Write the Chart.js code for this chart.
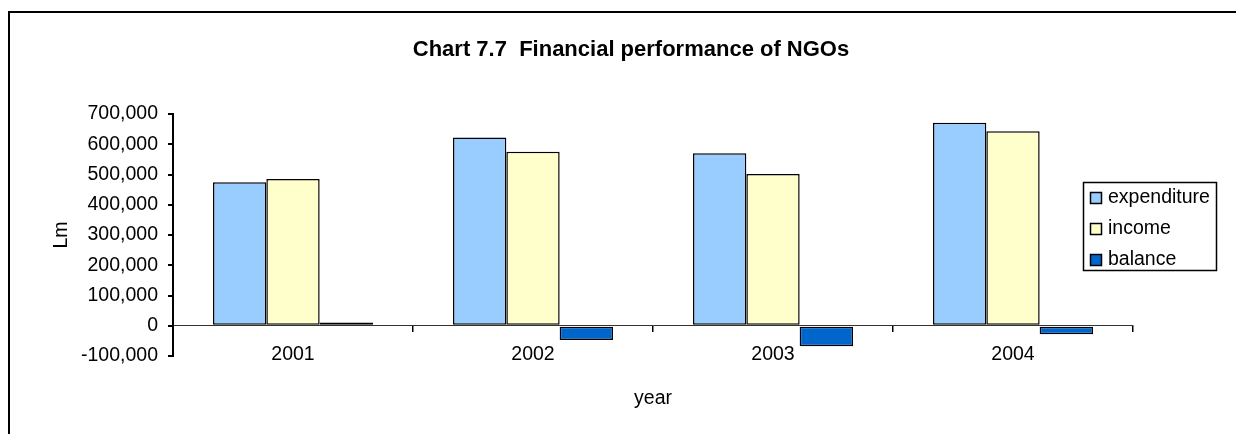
<!DOCTYPE html>
<html>
<head>
<meta charset="utf-8">
<title>Financial performance of NGOs</title>
<script src="https://cdn.jsdelivr.net/npm/chart.js@4.4.1/dist/chart.umd.min.js"></script>
<style>
    html, body { margin: 0; padding: 0; background: #fff; overflow: hidden; }
    #ngo-chart { display: block; }
</style>
</head>
<body>
<canvas id="ngo-chart" width="1236" height="434"></canvas>
<script>
// Financial performance of NGOs, Lm per year

var chartTitle = 'Chart 7.7  Financial performance of NGOs';
var years = ['2001', '2002', '2003', '2004'];
var expenditure = [474000, 622000, 570000, 671000];
var income = [485000, 575000, 502000, 643000];
var balance = [11000, -47000, -68000, -28000];
var yTicks = [-100000, 0, 100000, 200000, 300000, 400000, 500000, 600000, 700000];

var fontFamily = '"Liberation Sans", Arial, Helvetica, sans-serif';

Chart.defaults.font.family = fontFamily;
Chart.defaults.font.size = 19.5;
Chart.defaults.color = '#000';

// frame, title and the boxed legend
var chartDecor = {
    id: 'chartDecor',
    beforeDraw: function (chart) {
        var ctx = chart.ctx;
        ctx.save();
        ctx.strokeStyle = '#000';
        ctx.lineWidth = 2;
        ctx.strokeRect(9, 12, chart.width + 40, chart.height + 40);
        ctx.restore();
    },
    afterDraw: function (chart) {
        var ctx = chart.ctx;
        ctx.save();

        ctx.fillStyle = '#000';
        ctx.font = 'bold 22px ' + fontFamily;
        ctx.textAlign = 'center';
        ctx.textBaseline = 'alphabetic';
        ctx.fillText(chartTitle, 631, 56);

        var lx = 1083.5, ly = 182.5, lw = 133, lh = 88;
        ctx.fillStyle = '#fff';
        ctx.fillRect(lx, ly, lw, lh);
        ctx.strokeStyle = '#000';
        ctx.lineWidth = 1.5;
        ctx.strokeRect(lx, ly, lw, lh);

        ctx.font = '19.5px ' + fontFamily;
        ctx.textAlign = 'left';
        ctx.textBaseline = 'middle';
        chart.data.datasets.forEach(function (ds, i) {
            var cy = ly + 15.5 + i * 31;
            ctx.fillStyle = ds.backgroundColor;
            ctx.fillRect(lx + 7, cy - 5.5, 11, 11);
            ctx.strokeRect(lx + 7, cy - 5.5, 11, 11);
            ctx.fillStyle = '#000';
            ctx.fillText(ds.label, lx + 24.5, cy);
        });
        ctx.restore();
    }
};

var ctx = document.getElementById('ngo-chart').getContext('2d');
var ngoChart = new Chart(ctx, {
    type: 'bar',
    data: {
        labels: years,
        datasets: [
            {
                label: 'expenditure',
                data: expenditure,
                backgroundColor: '#99CCFF',
                borderColor: '#000',
                borderWidth: 1.5,
                borderSkipped: false
            },
            {
                label: 'income',
                data: income,
                backgroundColor: '#FFFFCC',
                borderColor: '#000',
                borderWidth: 1.5,
                borderSkipped: false
            },
            {
                label: 'balance',
                data: balance,
                backgroundColor: '#0066CC',
                borderColor: '#000',
                borderWidth: 1.5,
                borderSkipped: false
            }
        ]
    },
    options: {
        responsive: false,
        animation: false,
        layout: {
            padding: { left: 50, top: 114, right: 103, bottom: 78 }
        },
        categoryPercentage: 2 / 3,
        barPercentage: 1,
        plugins: {
            legend: { display: false },
            title: { display: false },
            tooltip: { enabled: false }
        },
        scales: {
            x: {
                position: { y: 0 },
                grid: {
                    drawOnChartArea: false,
                    offset: true,
                    tickLength: 6,
                    color: '#000',
                    lineWidth: 1.5
                },
                border: { color: '#333', width: 1 },
                ticks: { padding: 11, maxRotation: 0 },
                title: {
                    display: true,
                    text: 'year',
                    padding: { top: 10, bottom: 0 }
                }
            },
            y: {
                min: yTicks[0],
                max: yTicks[yTicks.length - 1],
                afterBuildTicks: function (scale) {
                    scale.ticks = yTicks.map(function (v) { return { value: v }; });
                },
                afterFit: function (scale) {
                    scale.width = 123;
                },
                grid: {
                    drawOnChartArea: false,
                    tickLength: 5,
                    color: '#000',
                    lineWidth: 2
                },
                border: { color: '#000', width: 2 },
                ticks: {
                    padding: 10,
                    callback: function (value) {
                        return value.toLocaleString('en-US');
                    }
                },
                title: {
                    display: true,
                    text: 'Lm',
                    padding: { top: 0, bottom: 0 }
                }
            }
        }
    },
    plugins: [chartDecor]
});
</script>
</body>
</html>
